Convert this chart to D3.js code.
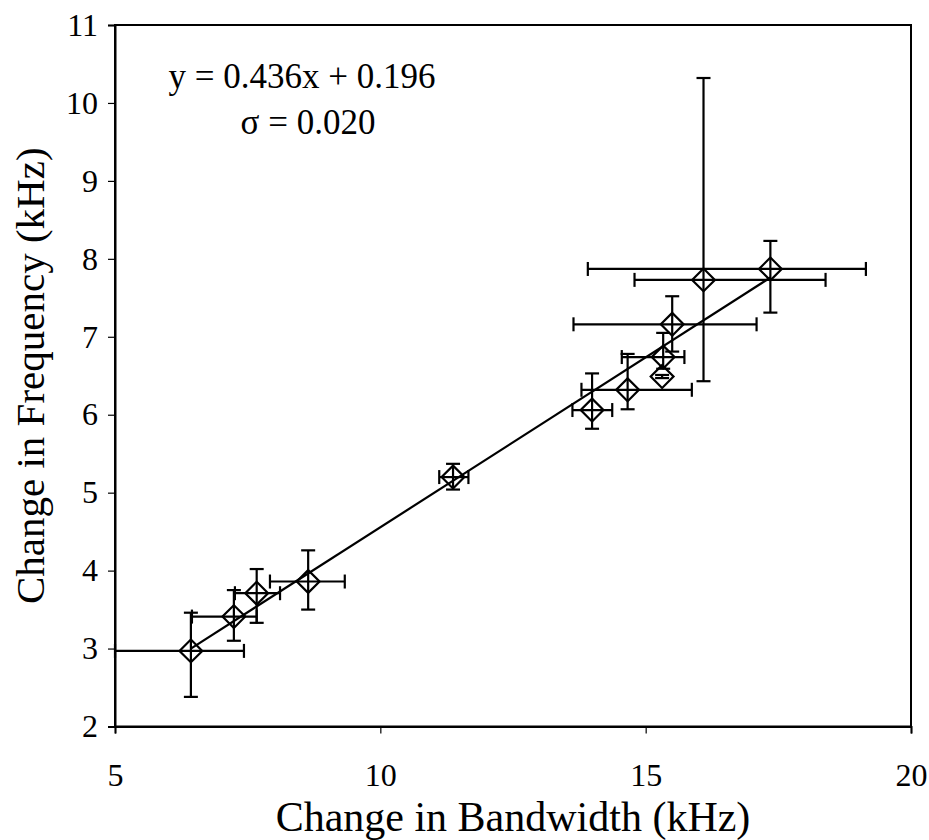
<!DOCTYPE html>
<html>
<head>
<meta charset="utf-8">
<script src="https://cdn.jsdelivr.net/npm/d3@7"></script>
<style>
  html, body { margin: 0; padding: 0; background: #fff; }
  svg { display: block; }
</style>
</head>
<body>
<svg id="chart" width="929" height="840"></svg>
<script>
// Data
const bandwidth = [6.43, 7.24, 7.67, 8.64, 11.37, 13.99, 14.66, 15.31, 15.33, 15.50, 16.09, 17.35];
const frequency = [2.97, 3.41, 3.71, 3.86, 5.20, 6.06, 6.32, 6.49, 6.74, 7.16, 7.73, 7.87];
const bandwidthLow  = [5.00, 6.45, 7.26, 7.92, 11.11, 13.62, 13.79, 15.31, 14.55, 13.64, 14.79, 13.91];
const bandwidthHigh = [7.43, 7.67, 8.11, 9.33, 11.66, 14.37, 15.87, 15.31, 15.73, 17.09, 18.39, 19.15];
const frequencyLow  = [2.38, 3.10, 3.33, 3.50, 5.04, 5.82, 6.07, 6.47, 6.59, 6.81, 6.43, 7.31];
const frequencyHigh = [3.46, 3.75, 4.02, 4.26, 5.37, 6.53, 6.78, 6.51, 7.05, 7.52, 10.32, 8.23];
const xTicks = [5, 10, 15, 20];
const yTicks = [2, 3, 4, 5, 6, 7, 8, 9, 10, 11];
const slope = 0.436, intercept = 0.196;
const fitLabel = "y = 0.436x + 0.196";
const sigmaLabel = "σ = 0.020";
const xTitle = "Change in Bandwidth (kHz)";
const yTitle = "Change in Frequency (kHz)";

const FONT = "Liberation Serif, Times New Roman, serif";
const svg = d3.select("#chart").attr("font-family", FONT);
const L = 115, R = 911, T = 25, B = 726.5;
const x = d3.scaleLinear().domain([5, 20]).range([L, R]);
const y = d3.scaleLinear().domain([2, 11]).range([B, T]);

// Plot frame
svg.append("rect").attr("x", L).attr("y", T).attr("width", R - L).attr("height", B - T)
  .attr("fill", "none").attr("stroke", "#000").attr("stroke-width", 2);

// Axes
const xAxis = svg.append("g").attr("transform", `translate(0,${B})`)
  .call(d3.axisBottom(x).tickValues(xTicks).tickSize(7).tickPadding(24).tickFormat(d3.format("d")));
const yAxis = svg.append("g").attr("transform", `translate(${L},0)`)
  .call(d3.axisLeft(y).tickValues(yTicks).tickSize(7).tickPadding(10).tickFormat(d3.format("d")));
[xAxis, yAxis].forEach(g => {
  g.attr("font-family", FONT).attr("font-size", 32);
  g.select(".domain").attr("stroke", "#000").attr("stroke-width", 2);
  g.selectAll(".tick line").attr("stroke", "#000").attr("stroke-width", 1.2);
  g.selectAll("text").attr("font-family", FONT).attr("font-size", 32).attr("fill", "#000");
});
xAxis.selectAll("text").attr("dy", "0.9em");

// Fit line
const xmin = d3.min(bandwidth), xmax = d3.max(bandwidth);
svg.append("line")
  .attr("x1", x(xmin)).attr("y1", y(slope * xmin + intercept))
  .attr("x2", x(xmax)).attr("y2", y(slope * xmax + intercept))
  .attr("stroke", "#000").attr("stroke-width", 2.2);

// Error bars
const cap = 7;
const pts = bandwidth.map((b, i) => ({
  x: b, y: frequency[i],
  xl: bandwidthLow[i], xh: bandwidthHigh[i],
  yl: frequencyLow[i], yh: frequencyHigh[i]
}));
const eb = svg.append("g").attr("stroke", "#000").attr("stroke-width", 2.2).attr("fill", "none");
pts.forEach(p => {
  if (p.xh - p.xl > 0.01) {
    eb.append("line").attr("x1", x(p.xl)).attr("x2", x(p.xh)).attr("y1", y(p.y)).attr("y2", y(p.y));
    eb.append("line").attr("x1", x(p.xl)).attr("x2", x(p.xl)).attr("y1", y(p.y) - cap).attr("y2", y(p.y) + cap);
    eb.append("line").attr("x1", x(p.xh)).attr("x2", x(p.xh)).attr("y1", y(p.y) - cap).attr("y2", y(p.y) + cap);
  }
  if (p.yh - p.yl > 0.01) {
    eb.append("line").attr("x1", x(p.x)).attr("x2", x(p.x)).attr("y1", y(p.yl)).attr("y2", y(p.yh));
    eb.append("line").attr("x1", x(p.x) - cap).attr("x2", x(p.x) + cap).attr("y1", y(p.yl)).attr("y2", y(p.yl));
    eb.append("line").attr("x1", x(p.x) - cap).attr("x2", x(p.x) + cap).attr("y1", y(p.yh)).attr("y2", y(p.yh));
  }
});

// Diamond markers
const diamond = d3.symbol().type(d3.symbolSquare).size(260);
svg.append("g").selectAll("path").data(pts).join("path")
  .attr("d", diamond)
  .attr("transform", d => `translate(${x(d.x)},${y(d.y)}) rotate(45)`)
  .attr("fill", "none").attr("stroke", "#000").attr("stroke-width", 2.2);

// Annotation
svg.append("text").attr("x", 302).attr("y", 88).attr("text-anchor", "middle")
  .attr("font-family", FONT).attr("font-size", 35).text(fitLabel);
svg.append("text").attr("x", 308).attr("y", 134).attr("text-anchor", "middle")
  .attr("font-family", FONT).attr("font-size", 35).text(sigmaLabel);

// Axis titles
svg.append("text").attr("x", (L + R) / 2).attr("y", 831).attr("text-anchor", "middle")
  .attr("font-family", FONT).attr("font-size", 42).text(xTitle);
svg.append("text").attr("transform", `translate(44,${(T + B) / 2}) rotate(-90)`)
  .attr("text-anchor", "middle").attr("font-family", FONT).attr("font-size", 41).text(yTitle);
</script>
</body>
</html>
